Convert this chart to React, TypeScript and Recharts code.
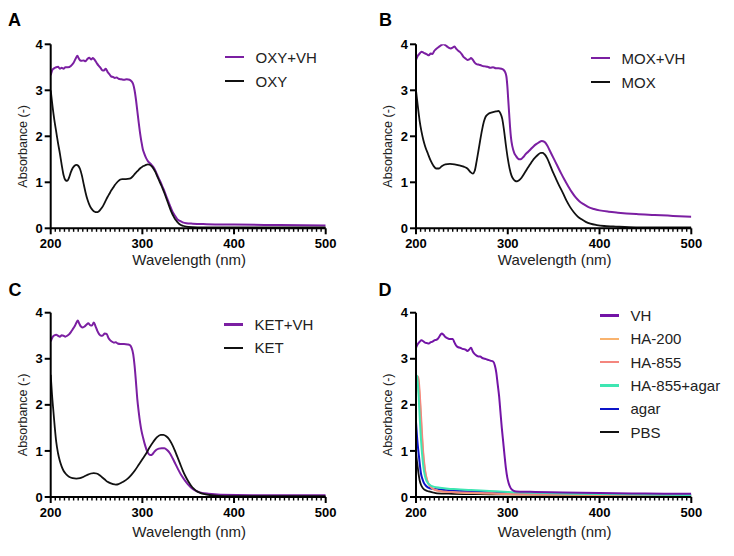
import React from "react";
import { LineChart, Line, XAxis, YAxis, Legend, Label } from "recharts";

type Pt = [number, number];

const FONT = '"Liberation Sans", Arial, Helvetica, sans-serif';
const PURPLE = "#7b1fa2";
const BLACK = "#111111";

// wavelength ticks every 5 nm, labelled every 100 nm
const X_TICKS = Array.from({ length: 61 }, (_, i) => 200 + i * 5);
const Y_TICKS = [0, 1, 2, 3, 4];

// [wavelength (nm), absorbance]
const OXY_VH: Pt[] = [
  [200, 3.33], [202, 3.45], [204, 3.48], [206, 3.5], [208, 3.51], [210, 3.47], [212, 3.49],
  [214, 3.47], [216, 3.5], [219, 3.5], [222, 3.53], [225, 3.6], [227, 3.68], [229, 3.75],
  [231, 3.68], [233, 3.64], [236, 3.65], [238, 3.63], [240, 3.68], [242, 3.71], [244, 3.67],
  [246, 3.7], [248, 3.66], [250, 3.6], [252, 3.54], [254, 3.5], [256, 3.44], [258, 3.43],
  [260, 3.47], [262, 3.4], [264, 3.35], [266, 3.3], [268, 3.29], [270, 3.27], [272, 3.28],
  [274, 3.25], [277, 3.24], [280, 3.23], [283, 3.24], [286, 3.23], [288, 3.2], [290, 3.13],
  [291.5, 3.0], [293, 2.8], [294.5, 2.55], [296, 2.3], [297.5, 2.07], [299, 1.88], [300.5, 1.72],
  [302, 1.63], [304, 1.53], [306, 1.46], [308, 1.42], [310, 1.38], [312, 1.33], [314, 1.26],
  [316, 1.17], [318, 1.08], [320, 1.0], [322, 0.9], [324, 0.81], [326, 0.7], [328, 0.6],
  [330, 0.5], [332, 0.4], [334, 0.32], [336, 0.26], [338, 0.2], [341, 0.16], [344, 0.13],
  [348, 0.11], [355, 0.1], [370, 0.09], [400, 0.08], [450, 0.07], [500, 0.06],
];

const OXY: Pt[] = [
  [200, 3.0], [202, 2.65], [204, 2.35], [206, 2.1], [208, 1.85], [210, 1.63], [212, 1.38],
  [214, 1.16], [216, 1.05], [218, 1.03], [220, 1.1], [222, 1.22], [224, 1.31], [226, 1.36],
  [228, 1.38], [230, 1.36], [232, 1.29], [234, 1.15], [236, 0.96], [238, 0.78], [240, 0.63],
  [242, 0.52], [244, 0.44], [246, 0.39], [248, 0.36], [250, 0.35], [252, 0.36], [254, 0.4],
  [256, 0.45], [258, 0.52], [260, 0.6], [262, 0.68], [264, 0.75], [266, 0.82], [268, 0.88],
  [270, 0.94], [272, 0.99], [274, 1.03], [276, 1.06], [278, 1.07], [282, 1.07], [286, 1.08],
  [288, 1.1], [290, 1.14], [292, 1.19], [294, 1.23], [296, 1.27], [298, 1.31], [300, 1.34],
  [302, 1.36], [304, 1.38], [306, 1.39], [308, 1.38], [310, 1.35], [312, 1.3], [314, 1.23],
  [316, 1.14], [318, 1.05], [320, 0.96], [322, 0.87], [324, 0.77], [326, 0.66], [328, 0.55],
  [330, 0.44], [332, 0.34], [334, 0.26], [336, 0.19], [338, 0.14], [340, 0.1], [342, 0.07],
  [345, 0.05], [350, 0.03], [360, 0.02], [400, 0.02], [500, 0.02],
];

const MOX_VH: Pt[] = [
  [200, 3.66], [202, 3.75], [204, 3.8], [206, 3.84], [208, 3.82], [210, 3.8], [212, 3.78],
  [214, 3.76], [216, 3.8], [218, 3.79], [220, 3.86], [222, 3.9], [224, 3.93], [226, 3.96],
  [228, 3.99], [230, 4.0], [232, 3.98], [234, 3.95], [236, 3.92], [238, 3.91], [240, 3.93],
  [242, 3.95], [244, 3.9], [246, 3.86], [248, 3.83], [250, 3.78], [252, 3.72], [254, 3.69],
  [256, 3.66], [258, 3.67], [260, 3.7], [262, 3.66], [264, 3.6], [266, 3.57], [268, 3.56],
  [270, 3.55], [272, 3.53], [275, 3.52], [278, 3.51], [281, 3.49], [284, 3.5], [287, 3.48],
  [290, 3.48], [293, 3.47], [295, 3.45], [297, 3.4], [298.5, 3.3], [299.5, 3.1], [300.5, 2.8],
  [301.5, 2.5], [302.5, 2.2], [303.5, 1.97], [305, 1.78], [307, 1.64], [309, 1.57], [311, 1.52],
  [313, 1.5], [315, 1.51], [317, 1.55], [319, 1.6], [322, 1.66], [325, 1.72], [328, 1.78],
  [331, 1.83], [334, 1.87], [337, 1.9], [340, 1.88], [343, 1.8], [346, 1.68], [350, 1.52],
  [354, 1.36], [358, 1.2], [362, 1.05], [366, 0.91], [370, 0.78], [374, 0.67], [378, 0.59],
  [383, 0.52], [388, 0.46], [394, 0.42], [400, 0.39], [410, 0.36], [420, 0.34], [440, 0.31],
  [460, 0.29], [480, 0.27], [500, 0.25],
];

const MOX: Pt[] = [
  [200, 3.0], [202, 2.65], [204, 2.33], [206, 2.1], [208, 1.92], [210, 1.78], [213, 1.62],
  [216, 1.47], [219, 1.36], [222, 1.3], [225, 1.3], [228, 1.35], [232, 1.39], [237, 1.4],
  [242, 1.39], [247, 1.37], [252, 1.34], [256, 1.3], [259, 1.23], [262, 1.19], [264, 1.25],
  [266, 1.45], [268, 1.68], [270, 1.92], [272, 2.14], [274, 2.32], [276, 2.43], [279, 2.49],
  [283, 2.52], [287, 2.54], [290, 2.55], [292, 2.5], [294, 2.38], [296, 2.12], [298, 1.8],
  [300, 1.52], [302, 1.3], [304, 1.15], [306, 1.07], [308, 1.03], [310, 1.02], [312, 1.04],
  [315, 1.1], [318, 1.19], [321, 1.29], [324, 1.38], [327, 1.47], [330, 1.54], [333, 1.6],
  [336, 1.64], [338, 1.64], [340, 1.61], [343, 1.52], [346, 1.38], [349, 1.23], [352, 1.1],
  [356, 0.93], [360, 0.77], [364, 0.6], [368, 0.46], [372, 0.35], [376, 0.26], [380, 0.2],
  [385, 0.14], [390, 0.1], [397, 0.07], [405, 0.05], [415, 0.04], [440, 0.02], [500, 0.02],
];

const KET_VH: Pt[] = [
  [200, 3.38], [202, 3.47], [204, 3.51], [206, 3.52], [208, 3.5], [210, 3.48], [212, 3.51],
  [214, 3.5], [216, 3.48], [218, 3.5], [220, 3.53], [222, 3.58], [224, 3.64], [226, 3.7],
  [228, 3.78], [229.5, 3.83], [231, 3.77], [233, 3.7], [235, 3.68], [237, 3.7], [239, 3.74],
  [241, 3.77], [243, 3.73], [245, 3.72], [247, 3.79], [249, 3.7], [251, 3.6], [253, 3.53],
  [255, 3.5], [257, 3.51], [259, 3.55], [261, 3.54], [263, 3.45], [265, 3.4], [267, 3.37],
  [269, 3.35], [271, 3.36], [273, 3.33], [276, 3.32], [280, 3.32], [284, 3.31], [286, 3.3],
  [288, 3.25], [290, 3.1], [291.5, 2.85], [293, 2.5], [294.5, 2.12], [296, 1.85], [297.5, 1.62],
  [299, 1.44], [301, 1.27], [303, 1.12], [305, 1.0], [307, 0.93], [309, 0.91], [311, 0.93],
  [313, 0.98], [315, 1.02], [318, 1.05], [321, 1.06], [324, 1.06], [327, 1.02], [330, 0.95],
  [333, 0.84], [336, 0.72], [339, 0.6], [342, 0.49], [345, 0.4], [348, 0.32], [351, 0.25],
  [354, 0.19], [357, 0.15], [360, 0.12], [365, 0.09], [372, 0.07], [385, 0.05], [420, 0.04],
  [500, 0.04],
];

const KET: Pt[] = [
  [200, 2.65], [201.5, 2.2], [203, 1.85], [204.5, 1.5], [206, 1.2], [208, 0.95], [210, 0.78],
  [212, 0.66], [214, 0.57], [217, 0.49], [220, 0.44], [224, 0.41], [228, 0.4], [232, 0.41],
  [236, 0.44], [240, 0.48], [244, 0.51], [247, 0.52], [250, 0.51], [253, 0.48], [256, 0.43],
  [259, 0.38], [262, 0.33], [265, 0.3], [268, 0.28], [271, 0.27], [274, 0.28], [277, 0.31],
  [280, 0.34], [284, 0.4], [288, 0.48], [292, 0.58], [296, 0.7], [300, 0.82], [304, 0.94],
  [308, 1.08], [312, 1.2], [316, 1.3], [320, 1.35], [323, 1.35], [326, 1.32], [329, 1.26],
  [332, 1.16], [335, 1.03], [338, 0.88], [341, 0.73], [344, 0.58], [347, 0.45], [350, 0.34],
  [353, 0.25], [356, 0.18], [359, 0.13], [363, 0.09], [368, 0.06], [375, 0.04], [390, 0.02],
  [500, 0.02],
];

const VH: Pt[] = [
  [200, 3.24], [202, 3.32], [204, 3.37], [206, 3.4], [208, 3.38], [210, 3.35], [212, 3.34],
  [214, 3.33], [216, 3.36], [218, 3.37], [220, 3.4], [222, 3.41], [224, 3.44], [226, 3.5],
  [228, 3.55], [230, 3.52], [232, 3.47], [234, 3.45], [236, 3.43], [238, 3.43], [240, 3.43],
  [242, 3.35], [244, 3.28], [246, 3.25], [248, 3.24], [250, 3.22], [252, 3.21], [254, 3.2],
  [256, 3.17], [258, 3.2], [260, 3.24], [262, 3.15], [264, 3.1], [266, 3.07], [268, 3.05],
  [270, 3.05], [272, 3.02], [275, 3.0], [278, 2.98], [281, 2.96], [284, 2.94], [286, 2.85],
  [287.5, 2.7], [289, 2.45], [290.5, 2.2], [292, 1.85], [293.5, 1.5], [295, 1.2], [296.5, 0.9],
  [298, 0.62], [299.5, 0.42], [301, 0.3], [302.5, 0.22], [304, 0.17], [306, 0.14], [309, 0.12],
  [315, 0.115], [330, 0.11], [360, 0.095], [400, 0.085], [450, 0.075], [500, 0.07],
];

const HA_200: Pt[] = [
  [200, 2.2], [201, 2.38], [202, 2.45], [203, 2.42], [204, 2.2], [205, 1.85], [206, 1.5],
  [207, 1.18], [208, 0.9], [209, 0.7], [210, 0.55], [212, 0.37], [214, 0.27], [217, 0.2],
  [220, 0.16], [226, 0.13], [235, 0.11], [250, 0.09], [270, 0.08], [300, 0.06], [350, 0.05],
  [400, 0.04], [500, 0.03],
];

const HA_855: Pt[] = [
  [200, 2.4], [201, 2.55], [202, 2.62], [203, 2.55], [204, 2.3], [205, 1.98], [206, 1.62],
  [207, 1.26], [208, 0.96], [209, 0.75], [210, 0.58], [212, 0.38], [214, 0.28], [217, 0.2],
  [220, 0.16], [226, 0.13], [235, 0.11], [250, 0.1], [270, 0.09], [300, 0.07], [350, 0.06],
  [400, 0.05], [500, 0.03],
];

const HA_855_AGAR: Pt[] = [
  [200, 2.64], [201, 2.63], [202, 2.45], [203, 2.15], [204, 1.75], [205, 1.38], [206, 1.08],
  [207, 0.85], [208, 0.66], [209.5, 0.48], [211, 0.37], [213, 0.3], [216, 0.25], [220, 0.22],
  [226, 0.2], [235, 0.18], [245, 0.17], [260, 0.15], [280, 0.13], [300, 0.11], [330, 0.09],
  [370, 0.07], [420, 0.06], [500, 0.04],
];

const AGAR: Pt[] = [
  [200, 1.63], [201.4, 1.24], [202.3, 1.05], [203.3, 0.87], [204.3, 0.68], [205.4, 0.51],
  [207, 0.39], [208.7, 0.3], [211, 0.24], [215, 0.19], [222, 0.17], [240, 0.14], [260, 0.12],
  [280, 0.1], [300, 0.09], [350, 0.07], [400, 0.06], [500, 0.04],
];

const PBS: Pt[] = [
  [200, 0.98], [200.8, 0.82], [201.8, 0.66], [202.8, 0.5], [203.9, 0.37], [205.5, 0.26],
  [207.6, 0.19], [210, 0.15], [213.8, 0.12], [218, 0.1], [223, 0.08], [240, 0.07], [280, 0.06],
  [350, 0.05], [500, 0.03],
];

type Series = { name: string; color: string; width: number; points: Pt[] };

const W = 367;
const H = 278;
const X_AXIS_H = 40;

function XTick({ x, y, payload }: any) {
  const v = payload.value;
  const major = v % 100 === 0;
  return (
    <g>
      <line x1={x} x2={x} y1={y} y2={y + (major ? 6 : 3.5)} stroke="#000" strokeWidth={major ? 2 : 1.4} />
      {major && (
        <text x={x} y={y + 19.5} textAnchor="middle" fontSize={13} fontWeight="bold" fontFamily={FONT} fill="#000">
          {v}
        </text>
      )}
    </g>
  );
}

function LegendBox({ items, rowH }: { items: Series[]; rowH: number }) {
  return (
    <div style={{ fontFamily: FONT, fontSize: 15, color: "#222" }}>
      {items.map((s) => (
        <div key={s.name} style={{ display: "flex", alignItems: "center", height: rowH, whiteSpace: "nowrap" }}>
          <span style={{ display: "inline-block", width: 19, height: 2.5, background: s.color, marginRight: 11.5 }} />
          <span>{s.name}</span>
        </div>
      ))}
    </div>
  );
}

type PanelProps = {
  letter: string;
  left: number;
  top: number;
  letterPos: [number, number];
  margin: { top: number; right: number; bottom: number; left: number };
  yWidth: number;
  titleGap: number;
  series: Series[];
  legend: Series[];
  legendPos: [number, number];
  rowH: number;
};

function Panel({ letter, left, top, letterPos, margin, yWidth, titleGap, series, legend, legendPos, rowH }: PanelProps) {
  const plotLeft = margin.left + yWidth;
  const plotRight = W - margin.right;
  const plotTop = margin.top;
  const plotBottom = H - margin.bottom - X_AXIS_H;
  return (
    <div style={{ position: "absolute", left, top, width: W, height: H }}>
      <div
        style={{
          position: "absolute",
          left: letterPos[0],
          top: letterPos[1],
          fontFamily: FONT,
          fontWeight: "bold",
          fontSize: 18,
          lineHeight: "18px",
          color: "#000",
          zIndex: 2,
        }}
      >
        {letter}
      </div>
      <LineChart width={W} height={H} margin={margin}>
        <XAxis
          type="number"
          dataKey="nm"
          domain={[200, 500]}
          ticks={X_TICKS}
          interval={0}
          height={X_AXIS_H}
          tickSize={0}
          tickMargin={0}
          tickLine={false}
          tick={<XTick />}
          axisLine={{ stroke: "#000", strokeWidth: 2 }}
          allowDataOverflow
        >
          <Label
            content={() => (
              <text
                x={(plotLeft + plotRight) / 2 + 1}
                y={plotBottom + titleGap}
                textAnchor="middle"
                fontSize={15}
                fontFamily={FONT}
                fill="#222"
              >
                Wavelength (nm)
              </text>
            )}
          />
        </XAxis>
        <YAxis
          type="number"
          domain={[0, 4]}
          ticks={Y_TICKS}
          width={yWidth}
          tickSize={6}
          tickMargin={2}
          tick={{ fontSize: 13, fontWeight: "bold", fill: "#000", fontFamily: FONT }}
          tickLine={{ stroke: "#000", strokeWidth: 2 }}
          axisLine={{ stroke: "#000", strokeWidth: 2 }}
          allowDataOverflow
        >
          <Label
            content={() => (
              <text
                transform={`translate(${plotLeft - 28},${(plotTop + plotBottom) / 2 + 10}) rotate(-90)`}
                textAnchor="middle"
                dominantBaseline="central"
                fontSize={12.5}
                fontFamily={FONT}
                fill="#222"
              >
                Absorbance (-)
              </text>
            )}
          />
        </YAxis>
        <Legend
          layout="vertical"
          align="center"
          verticalAlign="middle"
          wrapperStyle={{ left: legendPos[0], top: legendPos[1], width: "auto" }}
          content={() => <LegendBox items={legend} rowH={rowH} />}
        />
        {series.map((s) => (
          <Line
            key={s.name}
            name={s.name}
            data={s.points.map(([nm, a]) => ({ nm, a }))}
            dataKey="a"
            type="monotone"
            stroke={s.color}
            strokeWidth={s.width}
            dot={false}
            activeDot={false}
            isAnimationActive={false}
          />
        ))}
      </LineChart>
    </div>
  );
}

const sOxyVh: Series = { name: "OXY+VH", color: PURPLE, width: 2, points: OXY_VH };
const sOxy: Series = { name: "OXY", color: BLACK, width: 1.8, points: OXY };
const sMoxVh: Series = { name: "MOX+VH", color: PURPLE, width: 2, points: MOX_VH };
const sMox: Series = { name: "MOX", color: BLACK, width: 1.8, points: MOX };
const sKetVh: Series = { name: "KET+VH", color: PURPLE, width: 2, points: KET_VH };
const sKet: Series = { name: "KET", color: BLACK, width: 1.8, points: KET };
const sVh: Series = { name: "VH", color: "#7314a6", width: 2, points: VH };
const sHa200: Series = { name: "HA-200", color: "#f9b36e", width: 1.8, points: HA_200 };
const sHa855: Series = { name: "HA-855", color: "#f4867e", width: 1.8, points: HA_855 };
const sHa855Agar: Series = { name: "HA-855+agar", color: "#3ee6b2", width: 2, points: HA_855_AGAR };
const sAgar: Series = { name: "agar", color: "#0c14c8", width: 2, points: AGAR };
const sPbs: Series = { name: "PBS", color: BLACK, width: 1.8, points: PBS };

export default function App() {
  return (
    <div style={{ position: "absolute", left: 0, top: 0, width: 734, height: 556, background: "#fff", overflow: "hidden" }}>
      <Panel
        letter="A"
        left={0}
        top={0}
        letterPos={[8, 10.7]}
        margin={{ top: 44.3, right: 41.3, bottom: 9.7, left: 0 }}
        yWidth={50.7}
        titleGap={36.5}
        series={[sOxyVh, sOxy]}
        legend={[sOxyVh, sOxy]}
        legendPos={[225, 45]}
        rowH={24}
      />
      <Panel
        letter="B"
        left={367}
        top={0}
        letterPos={[12, 10.7]}
        margin={{ top: 44.3, right: 42.7, bottom: 9.7, left: 0 }}
        yWidth={49}
        titleGap={36.5}
        series={[sMoxVh, sMox]}
        legend={[sMoxVh, sMox]}
        legendPos={[224, 46]}
        rowH={24}
      />
      <Panel
        letter="C"
        left={0}
        top={278}
        letterPos={[8.5, 2.7]}
        margin={{ top: 34.7, right: 41.3, bottom: 19, left: 0 }}
        yWidth={50.7}
        titleGap={40}
        series={[sKetVh, sKet]}
        legend={[sKetVh, sKet]}
        legendPos={[224, 35]}
        rowH={23.3}
      />
      <Panel
        letter="D"
        left={367}
        top={278}
        letterPos={[11.5, 2.7]}
        margin={{ top: 34.7, right: 42.7, bottom: 19, left: 0 }}
        yWidth={49}
        titleGap={40}
        series={[sPbs, sAgar, sHa200, sHa855, sHa855Agar, sVh]}
        legend={[sVh, sHa200, sHa855, sHa855Agar, sAgar, sPbs]}
        legendPos={[233, 26]}
        rowH={23.3}
      />
    </div>
  );
}
